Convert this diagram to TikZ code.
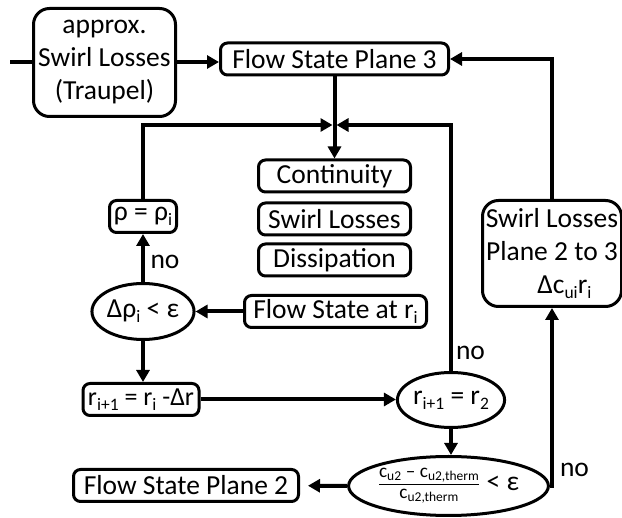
\documentclass[tikz,border=0pt]{standalone}
\usepackage{amsmath}
\usepackage{fontspec}
\setmainfont{Carlito}
\usetikzlibrary{shapes.geometric,arrows.meta}
\newcommand{\subtxt}[1]{\raisebox{-5pt}{\fontsize{17.5}{17.5}\selectfont #1}}

\begin{document}
\begin{tikzpicture}[x=1pt,y=-1pt,
  box/.style={draw,line width=3pt,rounded corners=7pt,inner sep=0pt,minimum height=32pt,align=center},
  bigbox/.style={box,rounded corners=16pt},
  oval/.style={draw,ellipse,line width=3pt,inner sep=0pt},
  line/.style={line width=4pt},
  arr/.style={line,-{Triangle[length=12pt,width=13pt]}},
  lbl/.style={inner sep=0pt},
  font=\fontsize{27.5}{33}\selectfont]
\useasboundingbox (0,0) rectangle (622,518);

\node[bigbox,minimum width=142,minimum height=108] (traupel) at (104.5,62.5) {approx.\\Swirl Losses\\(Traupel)};
\node[box,minimum width=228] (plane3) at (334.5,59) {Flow State Plane 3};
\node[box,minimum width=152] (cont) at (334.5,176) {Continuity};
\node[box,minimum width=152] (swirl) at (334.5,219) {Swirl Losses};
\node[box,minimum width=152] (diss) at (334.5,260) {Dissipation};
\node[box,minimum width=67] (rho) at (143,216.5) {ρ = ρ\subtxt{i}};
\node[oval,minimum width=90,minimum height=56] (drho) at (143,311.5) {Δρ\subtxt{i} < ε};
\node[box,minimum width=182] (stateri) at (335.5,311.5) {Flow State at r\subtxt{i}};
\node[box,minimum width=116,font=\fontsize{26}{31}\selectfont] (rnext) at (141,399.5) {r\subtxt{i+1} = r\subtxt{i} -Δr};
\node[oval,minimum width=91,minimum height=55] (rtwo) at (451,400) {r\subtxt{i+1} = r\subtxt{2}};
\node[oval,minimum width=172,minimum height=59] (crit) at (448.5,486) {$\frac{\text{c\textsubscript{u2} – c\textsubscript{u2,therm}}}{\text{c\textsubscript{u2,therm}}}$ < ε};
\node[box,minimum width=225] (plane2) at (186,485.5) {Flow State Plane 2};
\node[bigbox,minimum width=139,minimum height=106] (swirl23) at (552,253.5) {Swirl Losses\\Plane 2 to 3\\\hspace*{0.9em}Δc\subtxt{ui}r\subtxt{i}};

\coordinate (in) at (10,62);
\coordinate (jn) at (334.5,125);

\draw[line] (in) -- (in -| traupel.west);
\draw[arr] (traupel.east |- in) -- (in -| plane3.west);
\draw[arr] (plane3) -- (cont);
\draw[arr,shorten >=2pt] (rho) |- (jn);
\draw[arr,shorten >=2pt] (rtwo) |- (jn);
\draw[arr] (drho) -- (rho);
\draw[arr] (stateri) -- (drho);
\draw[arr] (drho.south) -- (drho.south |- rnext.north);
\draw[arr] (rnext.east) -- (rnext.east -| rtwo.west);
\draw[arr] (rtwo.south) -- (rtwo.south |- crit.north);
\draw[arr,shorten >=8pt] (crit) -- (plane2);
\draw[arr] (crit) -| (swirl23);
\draw[arr] (swirl23) |- (plane3);

\node[lbl] (no1) at (165,262) {no};
\node[lbl] (no2) at (470.5,353) {no};
\node[lbl] (no3) at (574.5,470) {no};
\end{tikzpicture}
\end{document}
